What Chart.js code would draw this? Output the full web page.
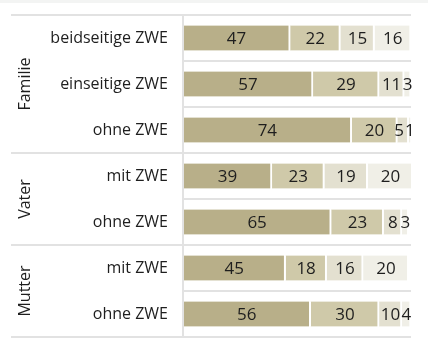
<!DOCTYPE html>
<html>
<head>
<meta charset="utf-8">
<script src="https://cdn.jsdelivr.net/npm/chart.js@4/dist/chart.umd.min.js"></script>
<style>
  body { margin: 0; background: #fff; }
  canvas { display: block; }
</style>
</head>
<body>
<canvas id="zwe-chart" width="428" height="339"></canvas>
<script>
const categories = ['beidseitige ZWE', 'einseitige ZWE', 'ohne ZWE', 'mit ZWE', 'ohne ZWE', 'mit ZWE', 'ohne ZWE'];
const groups = ['Familie', 'Vater', 'Mutter'];
const groupSizes = [3, 2, 2];

const share1 = [47, 57, 74, 39, 65, 45, 56];
const share2 = [22, 29, 20, 23, 23, 18, 30];
const share3 = [15, 11, 5, 19, 8, 16, 10];
const share4 = [16, 3, 1, 20, 3, 20, 4];

const colors = ['#b8af89', '#cfc9a9', '#e3e0d0', '#f0efe7'];
const lineColor = '#e2e2e2';
const textColor = '#1e1e1e';
const fontFamily = '"Open Sans", sans-serif';

function makeSet(data, i) {
    return {
        data: data,
        backgroundColor: colors[i],
        borderColor: '#fff',
        borderWidth: { right: 2 },
        borderSkipped: false,
        barThickness: 25
    };
}

// separators, group titles and the top strip
const frame = {
    id: 'frame',
    beforeDraw(chart) {
        const ctx = chart.ctx;
        ctx.save();
        ctx.fillStyle = '#f3f4f3';
        ctx.fillRect(0, 0, chart.width, 3);
        ctx.restore();
    },
    afterDatasetsDraw(chart) {
        const { ctx, chartArea, scales } = chart;
        const y = scales.y;
        const n = categories.length;
        const edge = i => i === 0 ? chartArea.top : i === n ? chartArea.bottom
            : (y.getPixelForValue(i - 1) + y.getPixelForValue(i)) / 2;

        ctx.save();
        ctx.strokeStyle = lineColor;
        ctx.lineWidth = 2;

        const groupEdges = [0];
        groupSizes.forEach(s => groupEdges.push(groupEdges[groupEdges.length - 1] + s));

        for (let i = 0; i <= n; i++) {
            const py = Math.round(edge(i));
            const x0 = groupEdges.includes(i) ? 11 : chartArea.left;
            ctx.beginPath();
            ctx.moveTo(x0, py);
            ctx.lineTo(chartArea.right, py);
            ctx.stroke();
        }
        ctx.beginPath();
        ctx.moveTo(chartArea.left, chartArea.top);
        ctx.lineTo(chartArea.left, chartArea.bottom);
        ctx.stroke();

        // group titles, rotated
        ctx.fillStyle = textColor;
        ctx.font = '16px ' + fontFamily;
        ctx.textAlign = 'center';
        ctx.textBaseline = 'middle';
        groups.forEach((g, k) => {
            const cy = (edge(groupEdges[k]) + edge(groupEdges[k + 1])) / 2;
            ctx.save();
            ctx.translate(25, cy);
            ctx.rotate(-Math.PI / 2);
            ctx.fillText(g, 0, 0);
            ctx.restore();
        });

        // value labels centred in each segment, pushed left when they collide
        ctx.font = '17px ' + fontFamily;
        const sets = chart.data.datasets;
        for (let i = 0; i < n; i++) {
            const row = sets.map((ds, d) => {
                const bar = chart.getDatasetMeta(d).data[i];
                const text = String(ds.data[i]);
                return { text, x: (bar.x + bar.base) / 2, y: bar.y + 1, w: ctx.measureText(text).width };
            });
            for (let k = row.length - 2; k >= 0; k--) {
                const limit = row[k + 1].x - row[k + 1].w / 2 - 1;
                if (row[k].x + row[k].w / 2 > limit) {
                    row[k].x = limit - row[k].w / 2;
                }
            }
            row.forEach(l => ctx.fillText(l.text, l.x, l.y));
        }
        ctx.restore();
    }
};

new Chart(document.getElementById('zwe-chart'), {
    type: 'bar',
    data: {
        labels: categories,
        datasets: [share1, share2, share3, share4].map(makeSet)
    },
    options: {
        responsive: false,
        animation: false,
        indexAxis: 'y',
        layout: { padding: { left: 0, right: 17, top: 15, bottom: 2 } },
        plugins: {
            legend: { display: false },
            tooltip: { enabled: false }
        },
        scales: {
            x: {
                stacked: true,
                min: 0,
                max: 100,
                display: false
            },
            y: {
                stacked: true,
                grid: { display: false, drawTicks: false },
                border: { display: false },
                ticks: {
                    color: textColor,
                    padding: 15,
                    font: { family: fontFamily, size: 16 }
                },
                afterFit(scale) {
                    scale.width = 183;
                    scale.paddingTop = 0;
                    scale.paddingBottom = 0;
                }
            }
        }
    },
    plugins: [frame]
});
</script>
</body>
</html>
